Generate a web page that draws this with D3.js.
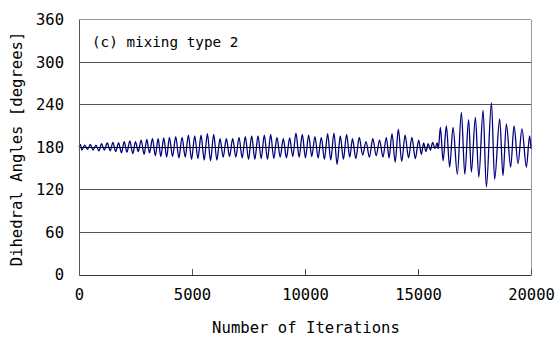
<!DOCTYPE html>
<html><head><meta charset="utf-8">
<script src="https://cdn.jsdelivr.net/npm/d3@7"></script>
<style>
body{margin:0;background:#fff;}
text{font-family:"DejaVu Sans Mono",monospace;fill:#000;}
</style></head>
<body><svg id="c" width="557" height="338"></svg>
<script>
const iterations = [0,60,130,250,380,500,620,750,880,1000,1120,1250,1380,1500,1620,1750,1880,2000,2120,2250,2380,2500,2620,2750,2880,3000,3120,3250,3380,3500,3620,3750,3880,4000,
4140,4280,4420,4560,4700,4840,4980,5120,5260,5400,5540,5680,5820,5960,6100,6240,6380,6520,6660,6800,6940,7080,7220,7360,7500,7640,7780,7920,8060,
8200,8340,8480,8620,8760,8900,9040,9180,9320,9460,9600,9740,9880,10020,10160,10300,10440,10580,10720,10860,11000,11140,11280,11420,11560,11700,11840,11980,
12100,12250,12400,12550,12700,12850,13000,13150,13300,13450,13600,13720,13850,13990,14130,14280,14430,14580,14730,14880,15030,15150,15250,15350,15450,15550,15650,15750,15850,15900,
15990,16110,16255,16400,16550,16740,16920,17070,17240,17360,17540,17690,17880,18025,18250,18390,18615,18760,18910,19100,19250,19425,19600,19795,19940,20000];
const angles = [180,184,176,183,177,184,176,183,175,185,176,186,175,187,174,186,172,188,173,189,171,188,174,190,170,191,172,192,168,192,167,193,166,194,
167,195,165,194,166,197,163,196,164,197,162,199,161,198,162,192,166,192,167,192,166,194,165,195,163,196,163,196,164,
197,163,198,164,194,166,192,165,193,167,200,166,198,165,197,167,195,165,194,163,199,162,200,156,196,163,198,166,
192,164,194,169,188,166,192,168,190,166,194,165,199,159,205,160,197,165,194,164,190,170,186,174,185,176,187,178,186,178,
208,161,210,152,208,142,229,142,219,145,222,138,232,124,243,135,220,140,213,152,210,157,206,152,196,178];
const xTicks = [0,5000,10000,15000,20000];
const yTicks = [0,60,120,180,240,300,360];
const refAngle = 180;

const svg = d3.select("#c");
const x = d3.scaleLinear().domain([0,20000]).range([79,531]);
const y = d3.scaleLinear().domain([0,360]).range([275,19.5]);
const FONT = '"DejaVu Sans Mono",monospace';

svg.append("g").selectAll("line").data(yTicks.filter(d=>d>0 && d<360)).join("line")
  .attr("x1",x(0)).attr("x2",x(20000)).attr("y1",d=>y(d)).attr("y2",d=>y(d))
  .attr("stroke","#555").attr("stroke-width",1).attr("shape-rendering","crispEdges");
svg.append("line").attr("x1",x(0)).attr("x2",x(20000)).attr("y1",y(360)).attr("y2",y(360))
  .attr("stroke","#999").attr("shape-rendering","crispEdges");
svg.append("line").attr("x1",x(20000)).attr("x2",x(20000)).attr("y1",y(360)).attr("y2",y(0))
  .attr("stroke","#999").attr("shape-rendering","crispEdges");

const pts = iterations.map((d,i)=>[d,angles[i]]);
svg.append("path").datum(pts)
  .attr("fill","none").attr("stroke","#000080").attr("stroke-width",1.3)
  .attr("d",d3.line().x(d=>x(d[0])).y(d=>y(d[1])).curve(d3.curveMonotoneX));

svg.append("line").attr("x1",x(0)).attr("x2",x(20000)).attr("y1",y(refAngle)).attr("y2",y(refAngle))
  .attr("stroke","#000").attr("stroke-width",1).attr("shape-rendering","crispEdges");

const xAxis = svg.append("g").attr("transform",`translate(0,${y(0)})`)
  .call(d3.axisBottom(x).tickValues(xTicks).tickSizeInner(-6).tickSizeOuter(0).tickPadding(14).tickFormat(d3.format("d")));
xAxis.select(".domain").attr("stroke","#333");
xAxis.selectAll(".tick line").attr("stroke","#555");
xAxis.selectAll("text").attr("font-size",15.5).style("font-family",FONT);

const yAxis = svg.append("g").attr("transform",`translate(${x(0)},0)`)
  .call(d3.axisLeft(y).tickValues(yTicks).tickSize(0).tickPadding(15));
yAxis.select(".domain").attr("stroke","#555");
yAxis.selectAll("text").attr("font-size",15.5).style("font-family",FONT);

svg.append("text").attr("x",306).attr("y",333).attr("text-anchor","middle").attr("font-size",15.6)
  .text("Number of Iterations");
svg.append("text").attr("transform","translate(22,149) rotate(-90)").attr("text-anchor","middle").attr("font-size",15.6)
  .text("Dihedral Angles [degrees]");
svg.append("text").attr("x",92).attr("y",47).attr("font-size",14.3)
  .text("(c) mixing type 2");
</script></body></html>
